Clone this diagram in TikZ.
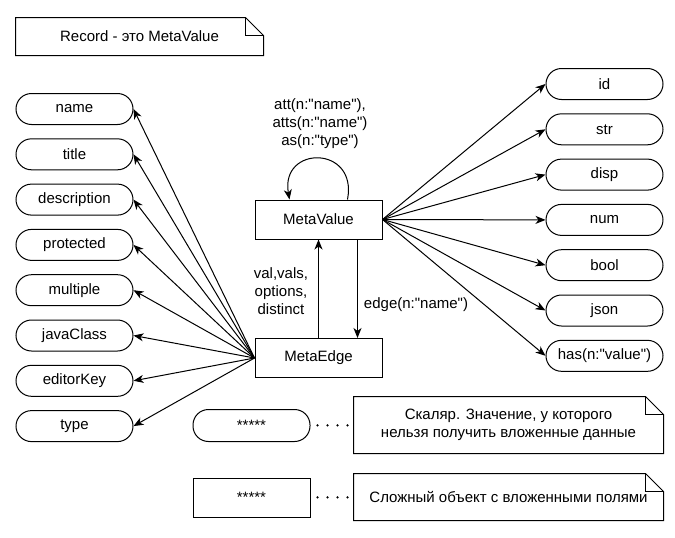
\documentclass[tikz,border=0pt]{standalone}
\usepackage{fontspec}
\setmainfont{Liberation Sans}[Ligatures=TeXOff]
\usetikzlibrary{arrows.meta, positioning}

% folded-corner note drawn round a named node
\newcommand{\drawnote}[1]{%
  \draw (#1.south west) -- (#1.north west) -- ([xshift=-18pt]#1.north east)
        -- ([yshift=-18pt]#1.north east) -- (#1.south east) -- cycle;
  \draw ([xshift=-18pt]#1.north east) |- ([yshift=-18pt]#1.north east);}

\tikzset{
  pill/.style={draw, rectangle, rounded corners=15.5pt, minimum width=117pt, minimum height=31pt, inner sep=1pt},
  box/.style={draw, rectangle, minimum width=127pt, minimum height=39pt},
  note/.style={rectangle, align=center, inner sep=0pt},
  arr/.style={-{Stealth[length=10pt,width=8pt,inset=3pt]}},
  dots/.style={line width=2.5pt, line cap=round, dash pattern=on 0pt off 10pt, shorten <=7pt, shorten >=6pt},
}

\begin{document}
\begin{tikzpicture}[x=1pt, y=-1pt, line width=1pt, node distance=13.3pt and 15pt,
    every node/.style={font=\fontsize{15}{18}\selectfont}]
    \useasboundingbox (0,0) rectangle (675,538);

    % Title note
    \node[note, minimum width=247pt, minimum height=37pt] (record) at (139.5,36.5) {Record - это MetaValue};
    \drawnote{record}

    % Central nodes
    \node[box] (mvalue) at (318.5,219.5) {MetaValue};
    \node[box] (medge) at (318.5,358) {MetaEdge};

    % Left column
    \node[pill] (name) at (74.5,109) {name};
    \node[pill, below=of name] (title) {title};
    \node[pill, below=of title] (descr) {description};
    \node[pill, below=of descr] (prot) {protected};
    \node[pill, below=of prot] (mult) {multiple};
    \node[pill, below=of mult] (jclass) {javaClass};
    \node[pill, below=of jclass] (ekey) {editorKey};
    \node[pill, below=of ekey] (type) {type};

    % Right column
    \node[pill] (id) at (604.5,84) {id};
    \node[pill, below=of id] (str) {str};
    \node[pill, below=of str] (disp) {disp};
    \node[pill, below=of disp] (num) {num};
    \node[pill, below=of num] (bool) {bool};
    \node[pill, below=of bool] (json) {json};
    \node[pill, below=of json] (has) {has(n:"value")};

    % Edges from MetaEdge
    \draw[arr] (medge.west) -- (name.east);
    \draw[arr] (medge.west) -- (title.east);
    \draw[arr] (medge.west) -- (descr.east);
    \draw[arr] (medge.west) -- (prot.east);
    \draw[arr] (medge.west) -- (mult.east);
    \draw[arr] (medge.west) -- (jclass.east);
    \draw[arr] (medge.west) -- (ekey.east);
    \draw[arr] (medge.west) -- (type.east);

    % Edges from MetaValue
    \draw[arr] (mvalue.east) -- (id.west);
    \draw[arr] (mvalue.east) -- (str.west);
    \draw[arr] (mvalue.east) -- (disp.west);
    \draw[arr] (mvalue.east) -- (num.west);
    \draw[arr] (mvalue.east) -- (bool.west);
    \draw[arr] (mvalue.east) -- (json.west);
    \draw[arr] (mvalue.east) -- (has.west);

    % Self loop
    \draw[arr] ([xshift=29pt]mvalue.north) .. controls (358,145) and (280,145) .. ([xshift=-29pt]mvalue.north);
    \node[align=center] (loop) at (320,123.5) {att(n:"name"),\\atts(n:"name")\\as(n:"type")};

    % Between MetaValue and MetaEdge
    \draw[arr] (medge.north) -- (mvalue.south);
    \draw[arr] ([xshift=39pt]mvalue.south) -- ([xshift=39pt]medge.north);
    \node[align=center] (vals) at (281,291) {val,vals,\\options,\\distinct};
    \node (edgelbl) at (416,305) {edge(n:"name")};

    % Legend
    \node[pill, minimum height=32pt] (lscalar) at (251.5,425.5) {*****};
    \node[note, minimum width=309pt, minimum height=56pt] (nscalar) at (508.5,425) {Скаляр. Значение, у которого\\нельзя получить вложенные данные};
    \drawnote{nscalar}
    \draw[dots] (lscalar) -- (nscalar);

    \node[box, minimum width=117pt, minimum height=39pt] (lobject) at (251.5,497.5) {*****};
    \node[note, minimum width=309pt, minimum height=46pt] (nobject) at (508.5,497) {Сложный объект с вложенными полями};
    \drawnote{nobject}
    \draw[dots] (lobject) -- (nobject);
\end{tikzpicture}
\end{document}
